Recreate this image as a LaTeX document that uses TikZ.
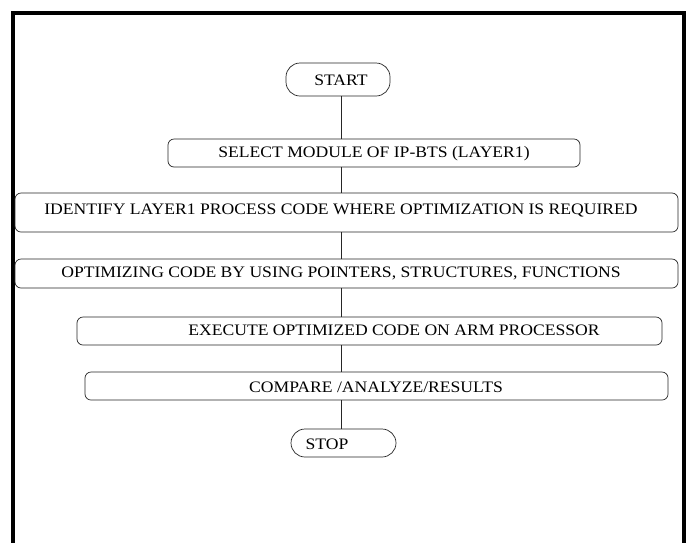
\documentclass[tikz,border=0pt]{standalone}
\usepackage{fontspec}
\setmainfont{Liberation Serif}[FakeStretch=1.1]
\begin{document}
\begin{tikzpicture}[x=1pt,y=-1pt,
  box/.style={draw=black!85,line width=0.7pt,rounded corners=6pt,inner sep=0pt},
  term/.style={draw=black!85,line width=0.7pt,rounded corners=14pt,inner sep=0pt},
  lbl/.style={inner sep=0pt,font=\fontsize{16}{16}\selectfont,text=black},
  conn/.style={draw=black!85,line width=0.7pt}]
\useasboundingbox (0,0) rectangle (690,542);
\fill[white] (0,0) rectangle (690,542);
\draw[line width=4pt] (13,600) -- (13,13) -- (684,13) -- (684,600);
% boxes
\node[term,minimum width=104pt,minimum height=33pt] (start) at (338,79.5) {};
\node[box,minimum width=412pt,minimum height=28pt] (sel) at (374,153) {};
\node[box,minimum width=663pt,minimum height=39pt] (ident) at (346.5,212.5) {};
\node[box,minimum width=663pt,minimum height=29pt] (opt) at (346.5,273.5) {};
\node[box,minimum width=585pt,minimum height=28pt] (exec) at (369.5,331) {};
\node[box,minimum width=583pt,minimum height=28pt] (comp) at (376.5,386) {};
\node[term,minimum width=105pt,minimum height=28pt] (stop) at (343.5,443) {};
% texts
\node[lbl] (tstart) at (341,80) {START};
\node[lbl] (tsel) at (374,154) {SELECT MODULE OF IP-BTS (LAYER1)};
\node[lbl] (tident) at (341,210) {IDENTIFY LAYER1 PROCESS CODE WHERE OPTIMIZATION IS REQUIRED};
\node[lbl] (topt) at (341,273) {OPTIMIZING CODE BY USING POINTERS, STRUCTURES, FUNCTIONS};
\node[lbl] (texec) at (394,330) {EXECUTE OPTIMIZED CODE ON ARM PROCESSOR};
\node[lbl] (tcomp) at (376,387) {COMPARE /ANALYZE/RESULTS};
\node[lbl] (tstop) at (327,444) {STOP};
% connectors
\coordinate (lx) at (341,0);
\draw[conn] (lx |- start.south) -- (lx |- sel.north);
\draw[conn] (lx |- sel.south) -- (lx |- ident.north);
\draw[conn] (lx |- ident.south) -- (lx |- opt.north);
\draw[conn] (lx |- opt.south) -- (lx |- exec.north);
\draw[conn] (lx |- exec.south) -- (lx |- comp.north);
\draw[conn] (lx |- comp.south) -- (lx |- stop.north);
\end{tikzpicture}
\end{document}
